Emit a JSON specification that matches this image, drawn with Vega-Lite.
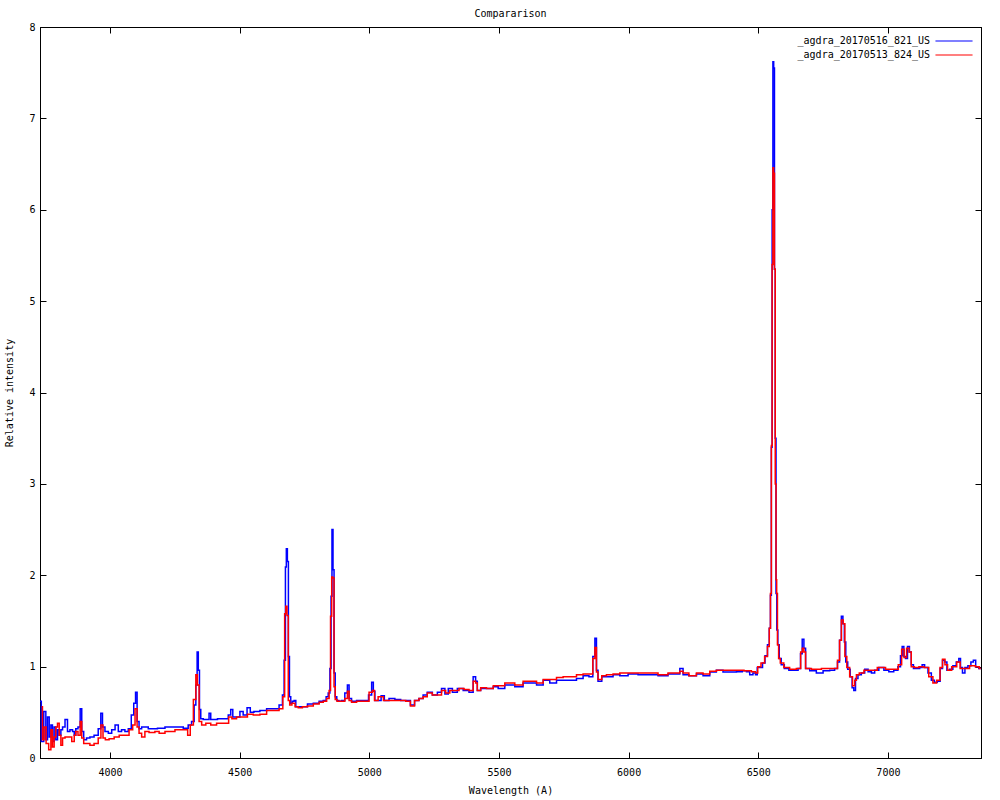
{
  "$schema": "https://vega.github.io/schema/vega-lite/v6.json",
  "width": 941,
  "height": 731,
  "autosize": "none",
  "padding": {"left": 40, "top": 27, "right": 19, "bottom": 42},
  "background": "white",
  "title": {"text": "Compararison", "font": "DejaVu Sans Mono", "fontSize": 10, "fontWeight": "normal", "color": "black", "offset": 3, "anchor": "middle"},
  "datasets": {
    "blue": [
      {"x":3730,"y":0.62},{"x":3740,"y":0.18},{"x":3749,"y":0.51},{"x":3756,"y":0.20},{"x":3762,"y":0.45},{"x":3769,"y":0.23},{"x":3775,"y":0.36},{"x":3781,"y":0.18},{"x":3788,"y":0.34},{"x":3794,"y":0.20},
      {"x":3801,"y":0.31},{"x":3807,"y":0.25},{"x":3814,"y":0.31},{"x":3820,"y":0.34},{"x":3833,"y":0.42},{"x":3839,"y":0.29},{"x":3852,"y":0.31},{"x":3859,"y":0.29},{"x":3865,"y":0.25},{"x":3871,"y":0.32},
      {"x":3882,"y":0.34},{"x":3888,"y":0.54},{"x":3894,"y":0.29},{"x":3903,"y":0.20},{"x":3916,"y":0.22},{"x":3929,"y":0.23},{"x":3948,"y":0.25},{"x":3961,"y":0.32},{"x":3968,"y":0.49},{"x":3974,"y":0.34},
      {"x":3987,"y":0.29},{"x":4000,"y":0.27},{"x":4013,"y":0.31},{"x":4026,"y":0.36},{"x":4038,"y":0.29},{"x":4051,"y":0.31},{"x":4064,"y":0.29},{"x":4077,"y":0.32},{"x":4087,"y":0.47},{"x":4096,"y":0.60},
      {"x":4101,"y":0.72},{"x":4108,"y":0.40},{"x":4116,"y":0.32},{"x":4128,"y":0.34},{"x":4141,"y":0.34},{"x":4154,"y":0.32},{"x":4173,"y":0.32},{"x":4193,"y":0.325},{"x":4231,"y":0.34},{"x":4270,"y":0.34},
      {"x":4295,"y":0.325},{"x":4308,"y":0.36},{"x":4321,"y":0.40},{"x":4328,"y":0.58},{"x":4334,"y":0.80},{"x":4338,"y":1.16},{"x":4343,"y":0.96},{"x":4347,"y":0.53},{"x":4353,"y":0.43},{"x":4366,"y":0.42},
      {"x":4379,"y":0.42},{"x":4385,"y":0.49},{"x":4392,"y":0.42},{"x":4405,"y":0.42},{"x":4424,"y":0.43},{"x":4450,"y":0.43},{"x":4462,"y":0.47},{"x":4469,"y":0.53},{"x":4478,"y":0.45},{"x":4495,"y":0.45},
      {"x":4507,"y":0.51},{"x":4520,"y":0.47},{"x":4537,"y":0.55},{"x":4545,"y":0.50},{"x":4565,"y":0.51},{"x":4591,"y":0.52},{"x":4617,"y":0.54},{"x":4642,"y":0.54},{"x":4662,"y":0.58},{"x":4668,"y":0.69},
      {"x":4675,"y":1.07},{"x":4678,"y":2.09},{"x":4682,"y":2.29},{"x":4686,"y":2.15},{"x":4690,"y":1.11},{"x":4694,"y":0.67},{"x":4700,"y":0.60},{"x":4707,"y":0.62},{"x":4713,"y":0.63},{"x":4720,"y":0.56},
      {"x":4732,"y":0.56},{"x":4752,"y":0.56},{"x":4771,"y":0.59},{"x":4797,"y":0.60},{"x":4816,"y":0.62},{"x":4829,"y":0.63},{"x":4838,"y":0.67},{"x":4845,"y":0.71},{"x":4851,"y":0.98},{"x":4854,"y":1.77},
      {"x":4858,"y":2.50},{"x":4862,"y":2.06},{"x":4866,"y":0.93},{"x":4871,"y":0.67},{"x":4878,"y":0.63},{"x":4887,"y":0.62},{"x":4899,"y":0.63},{"x":4912,"y":0.71},{"x":4919,"y":0.80},{"x":4925,"y":0.65},
      {"x":4938,"y":0.62},{"x":4964,"y":0.63},{"x":4989,"y":0.63},{"x":5005,"y":0.69},{"x":5013,"y":0.83},{"x":5018,"y":0.73},{"x":5025,"y":0.63},{"x":5041,"y":0.63},{"x":5050,"y":0.68},{"x":5066,"y":0.63},
      {"x":5086,"y":0.65},{"x":5111,"y":0.64},{"x":5131,"y":0.63},{"x":5150,"y":0.63},{"x":5167,"y":0.58},{"x":5182,"y":0.63},{"x":5201,"y":0.65},{"x":5214,"y":0.69},{"x":5233,"y":0.72},{"x":5253,"y":0.69},
      {"x":5272,"y":0.72},{"x":5285,"y":0.76},{"x":5298,"y":0.70},{"x":5311,"y":0.76},{"x":5330,"y":0.72},{"x":5349,"y":0.76},{"x":5375,"y":0.74},{"x":5394,"y":0.72},{"x":5407,"y":0.89},{"x":5413,"y":0.84},
      {"x":5420,"y":0.74},{"x":5439,"y":0.76},{"x":5465,"y":0.76},{"x":5491,"y":0.78},{"x":5503,"y":0.76},{"x":5542,"y":0.80},{"x":5580,"y":0.78},{"x":5606,"y":0.82},{"x":5632,"y":0.82},{"x":5658,"y":0.80},
      {"x":5683,"y":0.85},{"x":5709,"y":0.82},{"x":5735,"y":0.85},{"x":5760,"y":0.85},{"x":5786,"y":0.85},{"x":5812,"y":0.87},{"x":5837,"y":0.90},{"x":5857,"y":0.89},{"x":5867,"y":1.11},{"x":5873,"y":1.31},
      {"x":5879,"y":0.96},{"x":5885,"y":0.84},{"x":5891,"y":0.84},{"x":5902,"y":0.89},{"x":5927,"y":0.89},{"x":5953,"y":0.91},{"x":5979,"y":0.90},{"x":6017,"y":0.92},{"x":6056,"y":0.91},{"x":6094,"y":0.91},
      {"x":6133,"y":0.90},{"x":6171,"y":0.92},{"x":6191,"y":0.92},{"x":6204,"y":0.98},{"x":6216,"y":0.91},{"x":6249,"y":0.90},{"x":6274,"y":0.92},{"x":6300,"y":0.90},{"x":6326,"y":0.94},{"x":6351,"y":0.96},
      {"x":6377,"y":0.94},{"x":6403,"y":0.94},{"x":6429,"y":0.945},{"x":6448,"y":0.955},{"x":6461,"y":0.945},{"x":6473,"y":0.91},{"x":6486,"y":0.93},{"x":6493,"y":0.91},{"x":6499,"y":0.99},{"x":6512,"y":0.99},
      {"x":6521,"y":1.04},{"x":6531,"y":1.12},{"x":6540,"y":1.24},{"x":6545,"y":1.42},{"x":6549,"y":1.78},{"x":6552,"y":3.40},{"x":6555,"y":6.00},{"x":6558,"y":7.62},{"x":6561,"y":7.55},{"x":6564,"y":5.35},
      {"x":6567,"y":3.50},{"x":6570,"y":1.80},{"x":6573,"y":1.40},{"x":6578,"y":1.24},{"x":6584,"y":1.09},{"x":6593,"y":1.02},{"x":6608,"y":0.98},{"x":6628,"y":0.96},{"x":6647,"y":0.96},{"x":6660,"y":0.98},
      {"x":6666,"y":1.14},{"x":6673,"y":1.30},{"x":6679,"y":1.20},{"x":6686,"y":0.98},{"x":6711,"y":0.955},{"x":6737,"y":0.93},{"x":6763,"y":0.955},{"x":6788,"y":0.96},{"x":6801,"y":0.98},{"x":6810,"y":1.05},
      {"x":6817,"y":1.29},{"x":6824,"y":1.55},{"x":6829,"y":1.47},{"x":6835,"y":1.27},{"x":6840,"y":1.05},{"x":6850,"y":0.97},{"x":6859,"y":0.89},{"x":6865,"y":0.77},{"x":6872,"y":0.74},{"x":6878,"y":0.87},
      {"x":6891,"y":0.91},{"x":6904,"y":0.93},{"x":6917,"y":0.97},{"x":6930,"y":0.945},{"x":6943,"y":0.93},{"x":6955,"y":0.96},{"x":6975,"y":0.99},{"x":6994,"y":0.96},{"x":7013,"y":0.945},{"x":7032,"y":0.96},
      {"x":7045,"y":1.00},{"x":7052,"y":1.12},{"x":7058,"y":1.22},{"x":7065,"y":1.11},{"x":7071,"y":1.09},{"x":7080,"y":1.22},{"x":7086,"y":1.16},{"x":7094,"y":1.02},{"x":7103,"y":0.98},{"x":7116,"y":0.98},
      {"x":7129,"y":0.99},{"x":7135,"y":1.02},{"x":7148,"y":0.99},{"x":7161,"y":0.93},{"x":7174,"y":0.85},{"x":7184,"y":0.83},{"x":7197,"y":0.84},{"x":7206,"y":0.98},{"x":7215,"y":1.07},{"x":7223,"y":1.05},
      {"x":7232,"y":0.96},{"x":7244,"y":0.97},{"x":7257,"y":1.01},{"x":7270,"y":1.05},{"x":7277,"y":1.09},{"x":7283,"y":0.99},{"x":7292,"y":0.93},{"x":7302,"y":0.99},{"x":7315,"y":1.01},{"x":7325,"y":1.05},
      {"x":7334,"y":1.07},{"x":7343,"y":1.00},{"x":7358,"y":0.98}
    ],
    "red": [
      {"x":3736,"y":0.56},{"x":3743,"y":0.20},{"x":3749,"y":0.34},{"x":3758,"y":0.16},{"x":3769,"y":0.09},{"x":3775,"y":0.31},{"x":3781,"y":0.12},{"x":3788,"y":0.23},{"x":3794,"y":0.34},{"x":3801,"y":0.38},
      {"x":3807,"y":0.25},{"x":3814,"y":0.14},{"x":3820,"y":0.22},{"x":3833,"y":0.23},{"x":3846,"y":0.23},{"x":3859,"y":0.18},{"x":3865,"y":0.25},{"x":3871,"y":0.29},{"x":3882,"y":0.25},{"x":3888,"y":0.40},
      {"x":3894,"y":0.22},{"x":3903,"y":0.16},{"x":3916,"y":0.16},{"x":3929,"y":0.14},{"x":3948,"y":0.16},{"x":3961,"y":0.22},{"x":3969,"y":0.36},{"x":3977,"y":0.22},{"x":3987,"y":0.20},{"x":4006,"y":0.21},
      {"x":4026,"y":0.23},{"x":4045,"y":0.25},{"x":4064,"y":0.25},{"x":4083,"y":0.31},{"x":4092,"y":0.36},{"x":4101,"y":0.54},{"x":4108,"y":0.34},{"x":4116,"y":0.27},{"x":4128,"y":0.23},{"x":4141,"y":0.29},
      {"x":4160,"y":0.28},{"x":4186,"y":0.29},{"x":4193,"y":0.27},{"x":4231,"y":0.29},{"x":4270,"y":0.31},{"x":4295,"y":0.31},{"x":4304,"y":0.25},{"x":4315,"y":0.36},{"x":4328,"y":0.64},{"x":4334,"y":0.91},
      {"x":4340,"y":0.80},{"x":4347,"y":0.40},{"x":4360,"y":0.36},{"x":4379,"y":0.38},{"x":4398,"y":0.36},{"x":4424,"y":0.38},{"x":4450,"y":0.38},{"x":4465,"y":0.45},{"x":4475,"y":0.43},{"x":4501,"y":0.45},
      {"x":4520,"y":0.45},{"x":4540,"y":0.48},{"x":4565,"y":0.47},{"x":4591,"y":0.48},{"x":4617,"y":0.52},{"x":4642,"y":0.52},{"x":4662,"y":0.54},{"x":4671,"y":0.67},{"x":4676,"y":1.58},{"x":4680,"y":1.66},
      {"x":4685,"y":1.56},{"x":4690,"y":0.63},{"x":4696,"y":0.58},{"x":4707,"y":0.60},{"x":4720,"y":0.56},{"x":4732,"y":0.55},{"x":4752,"y":0.56},{"x":4771,"y":0.57},{"x":4797,"y":0.59},{"x":4816,"y":0.61},
      {"x":4829,"y":0.62},{"x":4842,"y":0.65},{"x":4848,"y":0.74},{"x":4853,"y":1.55},{"x":4857,"y":1.98},{"x":4862,"y":1.97},{"x":4866,"y":0.78},{"x":4871,"y":0.64},{"x":4880,"y":0.62},{"x":4899,"y":0.62},
      {"x":4912,"y":0.65},{"x":4919,"y":0.73},{"x":4925,"y":0.63},{"x":4938,"y":0.61},{"x":4964,"y":0.62},{"x":4989,"y":0.62},{"x":5009,"y":0.72},{"x":5015,"y":0.74},{"x":5025,"y":0.63},{"x":5043,"y":0.67},
      {"x":5066,"y":0.63},{"x":5086,"y":0.63},{"x":5111,"y":0.63},{"x":5131,"y":0.63},{"x":5150,"y":0.62},{"x":5167,"y":0.57},{"x":5182,"y":0.63},{"x":5201,"y":0.65},{"x":5214,"y":0.67},{"x":5233,"y":0.71},
      {"x":5253,"y":0.69},{"x":5272,"y":0.69},{"x":5285,"y":0.74},{"x":5304,"y":0.71},{"x":5317,"y":0.74},{"x":5336,"y":0.74},{"x":5356,"y":0.76},{"x":5375,"y":0.75},{"x":5394,"y":0.74},{"x":5407,"y":0.84},
      {"x":5413,"y":0.82},{"x":5420,"y":0.74},{"x":5439,"y":0.77},{"x":5465,"y":0.76},{"x":5491,"y":0.79},{"x":5503,"y":0.79},{"x":5542,"y":0.82},{"x":5580,"y":0.80},{"x":5606,"y":0.84},{"x":5632,"y":0.84},
      {"x":5658,"y":0.82},{"x":5683,"y":0.86},{"x":5709,"y":0.86},{"x":5735,"y":0.88},{"x":5760,"y":0.89},{"x":5786,"y":0.89},{"x":5812,"y":0.91},{"x":5837,"y":0.92},{"x":5857,"y":0.92},{"x":5867,"y":1.09},
      {"x":5873,"y":1.21},{"x":5879,"y":0.94},{"x":5885,"y":0.86},{"x":5891,"y":0.86},{"x":5902,"y":0.90},{"x":5927,"y":0.91},{"x":5953,"y":0.92},{"x":5979,"y":0.93},{"x":6017,"y":0.93},{"x":6056,"y":0.93},
      {"x":6094,"y":0.93},{"x":6133,"y":0.91},{"x":6171,"y":0.93},{"x":6191,"y":0.93},{"x":6204,"y":0.95},{"x":6216,"y":0.93},{"x":6249,"y":0.90},{"x":6274,"y":0.93},{"x":6300,"y":0.92},{"x":6326,"y":0.95},
      {"x":6351,"y":0.96},{"x":6377,"y":0.96},{"x":6403,"y":0.96},{"x":6429,"y":0.96},{"x":6461,"y":0.955},{"x":6486,"y":0.945},{"x":6493,"y":0.93},{"x":6503,"y":1.00},{"x":6518,"y":1.04},{"x":6531,"y":1.11},
      {"x":6540,"y":1.22},{"x":6545,"y":1.42},{"x":6549,"y":1.80},{"x":6552,"y":3.42},{"x":6555,"y":5.40},{"x":6558,"y":6.46},{"x":6561,"y":6.40},{"x":6564,"y":5.35},{"x":6567,"y":3.00},{"x":6570,"y":1.95},
      {"x":6572,"y":1.80},{"x":6576,"y":1.24},{"x":6581,"y":1.09},{"x":6589,"y":1.04},{"x":6608,"y":0.99},{"x":6634,"y":0.97},{"x":6660,"y":0.98},{"x":6667,"y":1.16},{"x":6673,"y":1.20},{"x":6679,"y":1.16},
      {"x":6686,"y":0.98},{"x":6724,"y":0.97},{"x":6763,"y":0.98},{"x":6801,"y":0.98},{"x":6810,"y":1.07},{"x":6817,"y":1.29},{"x":6824,"y":1.51},{"x":6831,"y":1.47},{"x":6837,"y":1.11},{"x":6846,"y":0.99},
      {"x":6859,"y":0.89},{"x":6868,"y":0.79},{"x":6876,"y":0.85},{"x":6881,"y":0.91},{"x":6898,"y":0.93},{"x":6917,"y":0.96},{"x":6943,"y":0.96},{"x":6975,"y":0.99},{"x":7007,"y":0.97},{"x":7032,"y":0.97},
      {"x":7048,"y":1.02},{"x":7058,"y":1.19},{"x":7067,"y":1.10},{"x":7077,"y":1.20},{"x":7086,"y":1.16},{"x":7094,"y":1.00},{"x":7110,"y":0.99},{"x":7129,"y":1.00},{"x":7148,"y":0.99},{"x":7167,"y":0.89},
      {"x":7180,"y":0.82},{"x":7196,"y":0.85},{"x":7206,"y":0.99},{"x":7215,"y":1.08},{"x":7225,"y":1.02},{"x":7235,"y":0.96},{"x":7257,"y":1.00},{"x":7274,"y":1.05},{"x":7283,"y":0.98},{"x":7302,"y":0.98},
      {"x":7328,"y":1.01},{"x":7347,"y":1.00},{"x":7358,"y":0.98}
    ]
  },
  "layer": [
    {
      "data": {"name": "blue"},
      "mark": {"type": "line", "interpolate": "step", "strokeWidth": 1.5, "clip": true},
      "encoding": {
        "x": {"field": "x", "type": "quantitative", "scale": {"domain": [3730, 7359], "nice": false, "zero": false},
              "axis": {"orient": "bottom", "values": [4000, 4500, 5000, 5500, 6000, 6500, 7000], "title": "Wavelength (A)", "format": "d"}},
        "y": {"field": "y", "type": "quantitative", "scale": {"domain": [0, 8], "nice": false},
              "axis": {"orient": "left", "values": [0, 1, 2, 3, 4, 5, 6, 7, 8], "title": "Relative intensity"}},
        "color": {"datum": "_agdra_20170516_821_US", "type": "nominal",
                  "scale": {"domain": ["_agdra_20170516_821_US", "_agdra_20170513_824_US"], "range": ["#0000ff", "#ff0000"]},
                  "legend": {"title": null, "orient": "none", "legendX": 906, "legendY": 6}}
      }
    },
    {
      "data": {"name": "red"},
      "mark": {"type": "line", "interpolate": "step", "strokeWidth": 1.5, "clip": true},
      "encoding": {
        "x": {"field": "x", "type": "quantitative",
              "axis": {"orient": "top", "values": [4000, 4500, 5000, 5500, 6000, 6500, 7000], "labels": false, "title": null}},
        "y": {"field": "y", "type": "quantitative",
              "axis": {"orient": "right", "values": [0, 1, 2, 3, 4, 5, 6, 7, 8], "labels": false, "title": null}},
        "color": {"datum": "_agdra_20170513_824_US", "type": "nominal"}
      }
    }
  ],
  "resolve": {"axis": {"x": "independent", "y": "independent"}},
  "config": {
    "view": {"stroke": "black", "strokeWidth": 1},
    "axis": {
      "grid": false, "domain": true, "domainColor": "black", "domainWidth": 1,
      "ticks": true, "tickColor": "black", "tickSize": -6, "tickWidth": 1,
      "labelFont": "DejaVu Sans Mono", "labelFontSize": 10, "labelColor": "black",
      "titleFont": "DejaVu Sans Mono", "titleFontSize": 10, "titleFontWeight": "normal", "titleColor": "black"
    },
    "axisBottom": {"labelPadding": 15, "titlePadding": 8},
    "axisLeft": {"labelPadding": 11, "titlePadding": 14},
    "legend": {
      "symbolType": "M-2.65,0H2.65", "symbolSize": 196, "symbolStrokeWidth": 1.2,
      "labelFont": "DejaVu Sans Mono", "labelFontSize": 10, "labelColor": "black", "labelLimit": 400,
      "labelAlign": "right", "labelOffset": -32, "rowPadding": 1
    }
  }
}
